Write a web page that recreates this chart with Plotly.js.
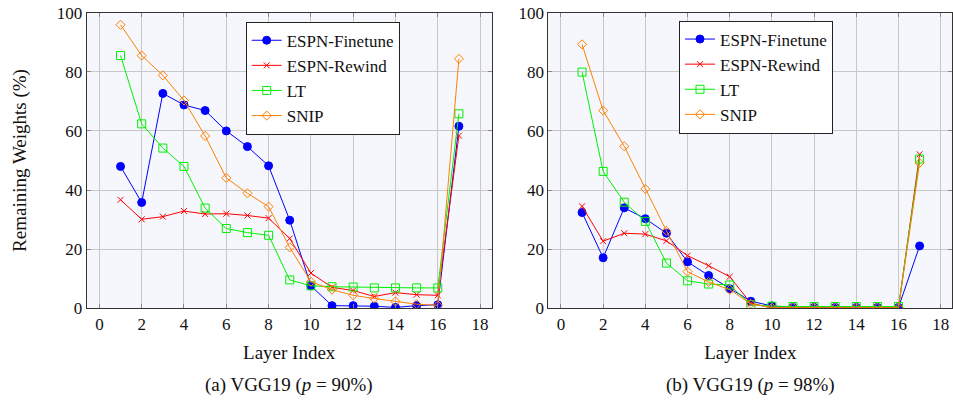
<!DOCTYPE html>
<html>
<head>
<meta charset="utf-8">
<script src="https://cdn.plot.ly/plotly-3.0.1.min.js"></script>
<style>html,body{margin:0;padding:0;background:#fff;}#chart{width:953px;height:400px;}</style>
</head>
<body>
<div id="chart"></div>
<script>
// Layer indices
const layers = [1,2,3,4,5,6,7,8,9,10,11,12,13,14,15,16,17];
const seriesNames = ["ESPN-Finetune", "ESPN-Rewind", "LT", "SNIP"];

// (a) VGG19 p = 90%
const a_finetune = [48.0,35.8,72.7,68.8,66.9,60.0,54.7,48.2,29.8,7.6,0.9,0.9,0.7,0.3,0.9,1.2,61.6];
const a_rewind   = [36.7,30.1,31.0,32.9,31.9,32.0,31.4,30.5,23.6,11.9,7.1,6.0,4.0,5.3,4.6,4.4,58.4];
const a_lt       = [85.5,62.4,54.2,48.0,33.9,27.0,25.6,24.7,9.6,7.6,7.3,7.2,6.9,6.9,6.9,6.9,65.8];
const a_snip     = [95.9,85.5,78.8,70.3,58.3,44.1,38.9,34.4,20.6,9.0,6.3,4.4,3.3,2.3,1.4,1.0,84.4];

// (b) VGG19 p = 98%
const b_finetune = [32.4,17.1,34.0,30.3,25.4,15.7,11.1,6.6,2.4,0.8,0.3,0.3,0.3,0.3,0.3,0.3,21.1];
const b_rewind   = [34.5,22.7,25.4,25.1,22.8,17.8,14.4,10.7,1.7,0.2,0.1,0.1,0.1,0.1,0.1,0.1,52.1];
const b_lt       = [79.9,46.3,35.9,29.4,15.3,9.3,8.2,7.9,1.2,0.7,0.6,0.6,0.6,0.6,0.6,0.6,50.5];
const b_snip     = [89.3,66.9,54.8,40.4,26.2,12.4,8.9,6.3,1.5,0.2,0.2,0.2,0.2,0.2,0.2,0.2,49.2];

const xTicks = [0,2,4,6,8,10,12,14,16,18];
const yTicks = [0,20,40,60,80,100];
const captions = ["(a) VGG19 (<i>p</i> = 90%)", "(b) VGG19 (<i>p</i> = 98%)"];
const xTitle = "Layer Index";
const yTitle = "Remaining Weights (%)";

const styles = [
  {color:"#0000ff", symbol:"circle", size:8},
  {color:"#ff0000", symbol:"x-thin-open", size:6},
  {color:"#00f000", symbol:"square-open", size:8},
  {color:"#ff8000", symbol:"diamond-open", size:7}
];

function mk(vals, i, xa, ya, leg) {
  const s = styles[i];
  return {
    x: layers, y: vals, name: seriesNames[i], type: "scatter", mode: "lines+markers",
    xaxis: xa, yaxis: ya, legend: leg,
    line: {color: s.color, width: 1},
    marker: {color: s.color, symbol: s.symbol, size: s.size, line: {color: s.color, width: 1}}
  };
}

const aSets = [a_finetune, a_rewind, a_lt, a_snip];
const bSets = [b_finetune, b_rewind, b_lt, b_snip];
const traces = [];
aSets.forEach((v,i)=>traces.push(mk(v,i,"x","y","legend")));
bSets.forEach((v,i)=>traces.push(mk(v,i,"x2","y2","legend2")));

const font = "Liberation Serif";
function xaxis(domain, anchor) {
  return {
    domain: domain, anchor: anchor, range: [-0.6, 18.55], tickvals: xTicks,
    showline: true, mirror: "allticks", linecolor: "#333", linewidth: 1,
    ticks: "inside", ticklen: 4, tickcolor: "#888",
    showgrid: true, gridcolor: "#c8c8c8", gridwidth: 1, zeroline: false,
    tickfont: {family: font, size: 17, color: "#111"},
    title: {text: xTitle, font: {family: font, size: 19, color: "#111"}, standoff: 12}
  };
}
function yaxis(domain, anchor, withTitle) {
  const ax = {
    domain: domain, anchor: anchor, range: [0, 100], tickvals: yTicks,
    showline: true, mirror: "allticks", linecolor: "#333", linewidth: 1,
    ticks: "inside", ticklen: 4, tickcolor: "#888",
    showgrid: true, gridcolor: "#c8c8c8", gridwidth: 1, zeroline: false,
    tickfont: {family: font, size: 17, color: "#111"}
  };
  if (withTitle) ax.title = {text: yTitle, font: {family: font, size: 19, color: "#111"}, standoff: 25};
  return ax;
}

const yDom = [1 - 308.3/400, 1 - 12.7/400];
const legFont = {family: font, size: 17, color: "#111"};
const layout = {
  width: 953, height: 400,
  margin: {l: 0, r: 0, t: 0, b: 0},
  paper_bgcolor: "#ffffff", plot_bgcolor: "#f5f7fc",
  font: {family: font},
  showlegend: true,
  xaxis: xaxis([86.7/953, 491.7/953], "y"),
  yaxis: yaxis(yDom, "x", true),
  xaxis2: xaxis([548.3/953, 952.3/953], "y2"),
  yaxis2: yaxis(yDom, "x2", false),
  legend: {x: 245.7/953, y: 1 - 21.7/400, xanchor: "left", yanchor: "top",
    bgcolor: "#ffffff", bordercolor: "#222", borderwidth: 1, font: legFont, tracegroupgap: 0},
  legend2: {x: 679/953, y: 1 - 20.5/400, xanchor: "left", yanchor: "top",
    bgcolor: "#ffffff", bordercolor: "#222", borderwidth: 1, font: legFont, tracegroupgap: 0},
  annotations: [
    {text: captions[0], xref: "paper", yref: "paper", x: 289/953, y: 1 - 385/400,
     xanchor: "center", yanchor: "middle", showarrow: false, font: {family: font, size: 19, color: "#111"}},
    {text: captions[1], xref: "paper", yref: "paper", x: 750/953, y: 1 - 385/400,
     xanchor: "center", yanchor: "middle", showarrow: false, font: {family: font, size: 19, color: "#111"}}
  ]
};

Plotly.newPlot("chart", traces, layout, {displayModeBar: false, staticPlot: true});
</script>
</body>
</html>
